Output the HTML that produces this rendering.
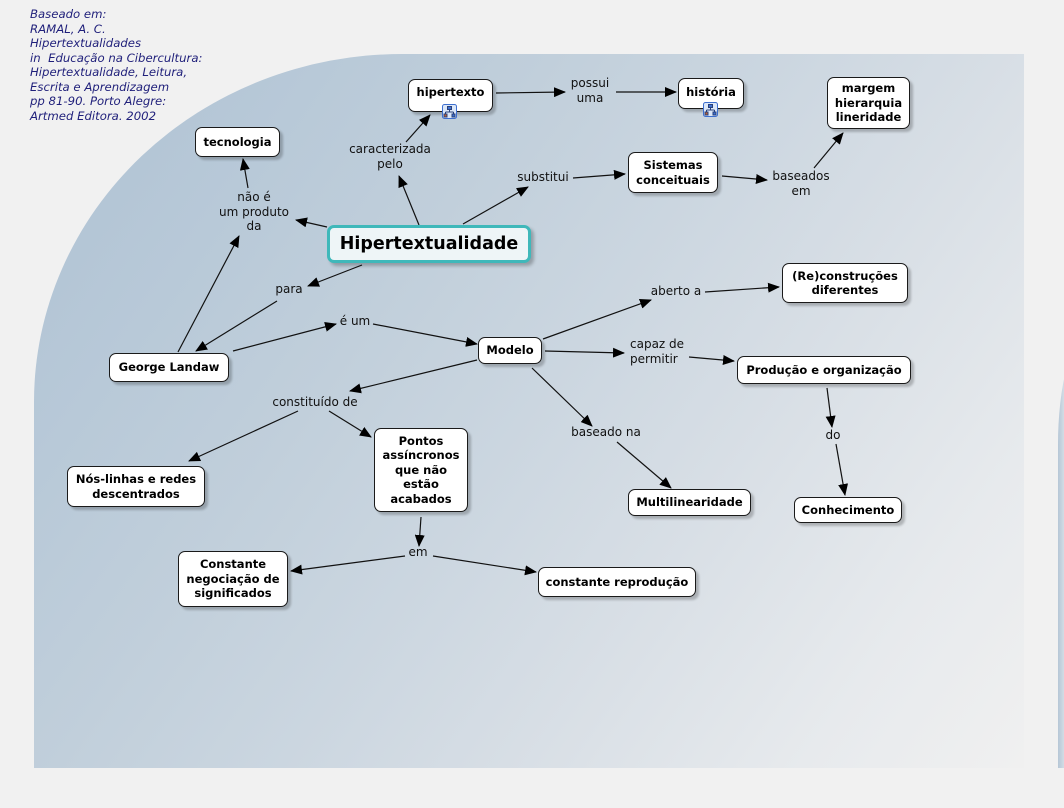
<!DOCTYPE html>
<html>
<head>
<meta charset="utf-8">
<style>
  html, body { margin:0; padding:0; }
  body { width:1064px; height:808px; background:#f1f1f1; position:relative; overflow:hidden;
         font-family:"DejaVu Sans","Liberation Sans",sans-serif; }
  .panel { position:absolute; left:34px; top:54px; width:990px; height:714px;
           border-top-left-radius:368px 348px;
           background:linear-gradient(125deg,#aec1d3 0%,#b8c9d8 20%,#c1cfdb 35%,#cbd6e0 50%,#d7dee5 65%,#e7eaed 85%,#f0f0f0 100%); }
  .panel2 { position:absolute; left:1058px; top:335px; width:60px; height:433px;
            border-top-left-radius:30px 110px;
            background:linear-gradient(90deg,#b5c6d6 0px,#dde4ea 8px,#e6eaee 60px); }
  .cite { position:absolute; left:30px; top:7px; font-family:"DejaVu Sans","Liberation Sans",sans-serif;
          font-style:italic; font-size:11.7px; line-height:14.5px; color:#1f1f7a; white-space:pre; }
  svg { position:absolute; left:0; top:0; }
  .n { position:absolute; box-sizing:border-box; background:#fff; border:1px solid #1a1a1a; border-radius:7px;
       box-shadow:3px 3px 2px rgba(0,0,0,0.22); display:flex; align-items:center; justify-content:center;
       text-align:center; font-weight:bold; font-size:11.5px; line-height:14.5px; color:#000; }
  .main { border:3px solid #3fb8ba; background:#eef5f7; font-size:17.5px; border-radius:7px;
          box-shadow:3px 3px 3px rgba(0,0,0,0.25); }
  .l { position:absolute; width:140px; text-align:center; font-size:12px; line-height:15px; color:#111; white-space:nowrap; }
  .ic { position:absolute; width:15px; height:15px; }
</style>
</head>
<body>
<div class="panel"></div>
<div class="panel2"></div>

<div class="cite">Baseado em:
RAMAL, A. C.
Hipertextualidades
in  Educação na Cibercultura:
Hipertextualidade, Leitura,
Escrita e Aprendizagem
pp 81-90. Porto Alegre:
Artmed Editora. 2002</div>

<svg width="1064" height="808" viewBox="0 0 1064 808">
  <defs>
    <marker id="a" markerWidth="12" markerHeight="10" refX="11" refY="5" orient="auto" markerUnits="userSpaceOnUse">
      <path d="M0,0 L12,5 L0,10 z" fill="#000"/>
    </marker>
  </defs>
  <g stroke="#111" stroke-width="1.2" fill="none" marker-end="url(#a)">
    <line x1="327" y1="227" x2="296" y2="220"/>
    <line x1="248" y1="188" x2="243" y2="159"/>
    <line x1="178" y1="352" x2="239" y2="236"/>
    <line x1="362" y1="265" x2="308" y2="286"/>
    <line x1="277" y1="301" x2="196" y2="351"/>
    <line x1="233" y1="351" x2="336" y2="324"/>
    <line x1="373" y1="324" x2="477" y2="344"/>
    <line x1="419" y1="225" x2="399" y2="176"/>
    <line x1="406" y1="142" x2="430" y2="115"/>
    <line x1="496" y1="93" x2="565" y2="92"/>
    <line x1="616" y1="92" x2="676" y2="92"/>
    <line x1="463" y1="224" x2="528" y2="187"/>
    <line x1="573" y1="178" x2="625" y2="174"/>
    <line x1="722" y1="176" x2="767" y2="180"/>
    <line x1="814" y1="168" x2="843" y2="133"/>
    <line x1="543" y1="339" x2="651" y2="300"/>
    <line x1="705" y1="292" x2="779" y2="287"/>
    <line x1="545" y1="351" x2="624" y2="353"/>
    <line x1="689" y1="357" x2="734" y2="361"/>
    <line x1="477" y1="360" x2="350" y2="391"/>
    <line x1="298" y1="411" x2="189" y2="461"/>
    <line x1="329" y1="411" x2="371" y2="437"/>
    <line x1="532" y1="368" x2="592" y2="426"/>
    <line x1="617" y1="442" x2="671" y2="488"/>
    <line x1="827" y1="388" x2="832" y2="427"/>
    <line x1="836" y1="444" x2="845" y2="495"/>
    <line x1="421" y1="517" x2="419" y2="546"/>
    <line x1="405" y1="556" x2="291" y2="571"/>
    <line x1="433" y1="556" x2="536" y2="572"/>
  </g>
</svg>

<!-- labels -->
<div class="l" style="left:184px;top:190px;line-height:14.5px;">não é<br>um produto<br>da</div>
<div class="l" style="left:320px;top:142px;">caracterizada<br>pelo</div>
<div class="l" style="left:520px;top:76px;">possui<br>uma</div>
<div class="l" style="left:473px;top:170px;">substitui</div>
<div class="l" style="left:731px;top:169px;">baseados<br>em</div>
<div class="l" style="left:219px;top:282px;">para</div>
<div class="l" style="left:285px;top:314px;">é um</div>
<div class="l" style="left:606px;top:284px;">aberto a</div>
<div class="l" style="left:630px;top:337px;text-align:left;">capaz de<br>permitir</div>
<div class="l" style="left:245px;top:395px;">constituído de</div>
<div class="l" style="left:536px;top:425px;">baseado na</div>
<div class="l" style="left:763px;top:428px;">do</div>
<div class="l" style="left:348px;top:545px;">em</div>

<!-- nodes -->
<div class="n" style="left:195px;top:127px;width:85px;height:30px;">tecnologia</div>
<div class="n" style="left:408px;top:79px;width:85px;height:33px;align-items:flex-start;padding-top:5px;">hipertexto</div>
<div class="n" style="left:678px;top:78px;width:66px;height:31px;align-items:flex-start;padding-top:6px;">história</div>
<div class="n" style="left:827px;top:77px;width:83px;height:52px;">margem<br>hierarquia<br>lineridade</div>
<div class="n" style="left:628px;top:152px;width:90px;height:41px;">Sistemas<br>conceituais</div>
<div class="n" style="left:782px;top:263px;width:126px;height:40px;">(Re)construções<br>diferentes</div>
<div class="n main" style="left:327px;top:225px;width:204px;height:38px;">Hipertextualidade</div>
<div class="n" style="left:109px;top:353px;width:120px;height:29px;">George Landaw</div>
<div class="n" style="left:478px;top:337px;width:64px;height:27px;">Modelo</div>
<div class="n" style="left:737px;top:356px;width:174px;height:28px;">Produção e organização</div>
<div class="n" style="left:628px;top:489px;width:123px;height:27px;">Multilinearidade</div>
<div class="n" style="left:794px;top:497px;width:108px;height:26px;">Conhecimento</div>
<div class="n" style="left:67px;top:466px;width:138px;height:41px;">Nós-linhas e redes<br>descentrados</div>
<div class="n" style="left:374px;top:428px;width:94px;height:84px;">Pontos<br>assíncronos<br>que não<br>estão<br>acabados</div>
<div class="n" style="left:178px;top:551px;width:110px;height:56px;">Constante<br>negociação de<br>significados</div>
<div class="n" style="left:538px;top:567px;width:158px;height:30px;">constante reprodução</div>

<!-- icons -->
<svg class="ic" style="left:442px;top:104px;" width="15" height="15" viewBox="0 0 15 15">
  <rect x="0.5" y="0.5" width="14" height="14" rx="2" fill="#dbe7f8" stroke="#3d6fcf"/>
  <g stroke="#28407a" stroke-width="1" fill="none">
    <rect x="5.5" y="2.5" width="4" height="3" fill="#3d6fcf"/>
    <line x1="7.5" y1="5.5" x2="7.5" y2="8"/>
    <line x1="3.5" y1="8" x2="11.5" y2="8"/>
    <line x1="3.5" y1="8" x2="3.5" y2="10"/>
    <line x1="11.5" y1="8" x2="11.5" y2="10"/>
    <rect x="2" y="10" width="3" height="3" fill="#c06030"/>
    <rect x="10" y="10" width="3" height="3" fill="#3d6fcf"/>
  </g>
</svg>
<svg class="ic" style="left:703px;top:102px;" width="15" height="15" viewBox="0 0 15 15">
  <rect x="0.5" y="0.5" width="14" height="14" rx="2" fill="#dbe7f8" stroke="#3d6fcf"/>
  <g stroke="#28407a" stroke-width="1" fill="none">
    <rect x="5.5" y="2.5" width="4" height="3" fill="#3d6fcf"/>
    <line x1="7.5" y1="5.5" x2="7.5" y2="8"/>
    <line x1="3.5" y1="8" x2="11.5" y2="8"/>
    <line x1="3.5" y1="8" x2="3.5" y2="10"/>
    <line x1="11.5" y1="8" x2="11.5" y2="10"/>
    <rect x="2" y="10" width="3" height="3" fill="#c06030"/>
    <rect x="10" y="10" width="3" height="3" fill="#3d6fcf"/>
  </g>
</svg>
</body>
</html>
